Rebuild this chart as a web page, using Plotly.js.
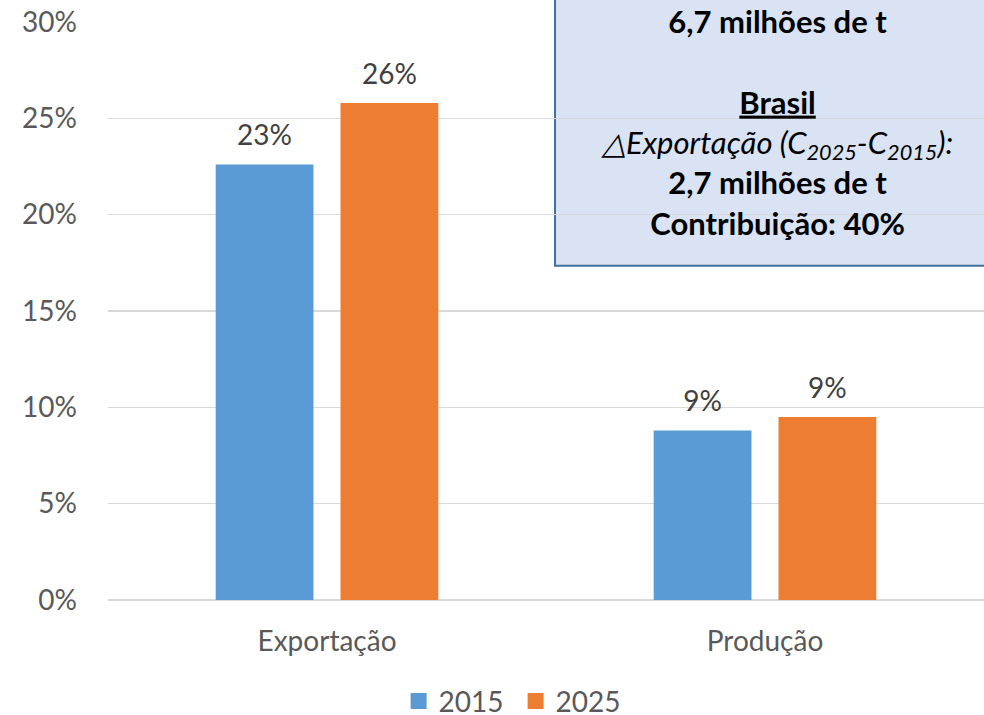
<!DOCTYPE html>
<html><head><meta charset="utf-8">
<script src="https://cdn.plot.ly/plotly-3.0.1.min.js"></script>
<style>html,body{margin:0;padding:0;background:#fff}#chart{width:984px;height:715px}</style>
</head><body><div id="chart"></div>
<script>
const categories = ['Exportação', 'Produção'];
const years = ['2015', '2025'];
const share2015 = [0.226, 0.088];
const share2025 = [0.258, 0.095];
const labels2015 = ['23%', '9%'];
const labels2025 = ['26%', '9%'];
const yTickVals = [0, 0.05, 0.10, 0.15, 0.20, 0.25, 0.30];
const yTickText = ['0%', '5%', '10%', '15%', '20%', '25%', '30%'];
const boxLines = [
  '<b>6,7 milhões de t</b>',
  ' ',
  '<b><u>Brasil</u></b>',
  '<i>△Exportação (C<sub>2025</sub>-C<sub>2015</sub>):</i>',
  '<b>2,7 milhões de t</b>',
  '<b>Contribuição: 40%</b>'
];

const colors = ['#5B9BD5', '#ED7D31'];
const groups = ['a', 'b'];
const values = [share2015, share2025];
const labels = [labels2015, labels2025];

const data = [];
years.forEach((yr, i) => {
  data.push({
    type: 'bar', x: categories, y: values[i], name: yr,
    marker: {color: colors[i]}, offsetgroup: groups[i],
    showlegend: false, hoverinfo: 'skip'
  });
});
years.forEach((yr, i) => {
  data.push({
    type: 'scatter', mode: 'markers+text', x: categories, y: values[i],
    text: labels[i], textposition: 'top center',
    textfont: {family: 'Lato, sans-serif', size: 28, color: '#404040'},
    marker: {size: 18, opacity: 0, color: colors[i]},
    offsetgroup: groups[i], showlegend: false, hoverinfo: 'skip', cliponaxis: false
  });
});
years.forEach((yr, i) => {
  data.push({
    type: 'scatter', mode: 'markers', x: [categories[0]], y: [null], name: yr,
    marker: {symbol: 'square', size: 18, color: colors[i]},
    offsetgroup: groups[i], showlegend: true, hoverinfo: 'skip'
  });
});

const layout = {
  width: 984, height: 715,
  margin: {l: 108, r: 0, t: 22, b: 115, pad: 0},
  paper_bgcolor: '#ffffff', plot_bgcolor: '#ffffff',
  font: {family: 'Lato, sans-serif', size: 28, color: '#595959'},
  barmode: 'group', bargap: 0.43, bargroupgap: 0.2165,
  scattermode: 'group',
  hovermode: false,
  xaxis: {
    type: 'category', showgrid: false, showline: false, zeroline: false,
    ticks: '', tickfont: {size: 28, color: '#595959'}, ticklabelstandoff: 22
  },
  yaxis: {
    range: [0, 0.30], tickvals: yTickVals, ticktext: yTickText,
    showgrid: true, gridcolor: '#D9D9D9', gridwidth: 1.5,
    zeroline: true, zerolinecolor: '#D9D9D9', zerolinewidth: 1.5,
    showline: false, ticks: '', ticklabelstandoff: 30,
    tickfont: {size: 28, color: '#595959'}
  },
  legend: {
    orientation: 'h', xref: 'container', yref: 'container',
    x: 0.524, xanchor: 'center', y: 0.019, yanchor: 'middle',
    font: {size: 28, color: '#595959'}, itemsizing: 'trace',
    entrywidth: 72, entrywidthmode: 'pixels',
    bgcolor: 'rgba(0,0,0,0)'
  },
  shapes: [{
    type: 'rect', xref: 'paper', yref: 'paper',
    x0: 0.5103, x1: 1.1, y0: (600 - 265.5) / 578.3, y1: 1.2,
    fillcolor: '#DAE3F3', line: {color: '#41719C', width: 2}, layer: 'below'
  }],
  annotations: [{
    xref: 'paper', yref: 'paper', x: 0.7637, y: 1.0385,
    xanchor: 'center', yanchor: 'top', align: 'center', showarrow: false,
    text: boxLines.join('<br>'),
    font: {family: 'Lato, sans-serif', size: 31, color: '#000000'}
  }]
};

Plotly.newPlot('chart', data, layout, {displayModeBar: false, staticPlot: true});
</script>
</body></html>
